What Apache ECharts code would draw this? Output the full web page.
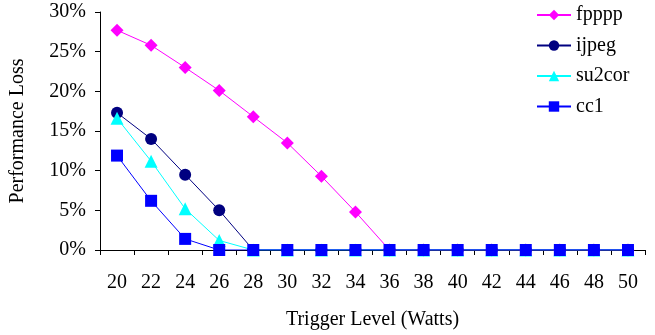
<!DOCTYPE html>
<html>
<head>
<meta charset="utf-8">
<script src="https://cdn.jsdelivr.net/npm/echarts@6/dist/echarts.min.js"></script>
<style>
  html, body { margin: 0; padding: 0; background: #fff; }
</style>
</head>
<body>
<div id="chart" style="width:655px;height:335px;"></div>
<script>
// trigger levels on the x axis
const levels = ['20', '22', '24', '26', '28', '30', '32', '34', '36', '38', '40', '42', '44', '46', '48', '50'];
// performance loss, percent
const fpppp  = [27.7, 25.8, 23.0, 20.1, 16.8, 13.5, 9.3, 4.8, 0, 0, 0, 0, 0, 0, 0, 0];
const ijpeg  = [17.3, 14.0, 9.5, 5.0, 0, 0, 0, 0, 0, 0, 0, 0, 0, 0, 0, 0];
const su2cor = [16.6, 11.2, 5.2, 1.2, 0, 0, 0, 0, 0, 0, 0, 0, 0, 0, 0, 0];
const cc1    = [11.9, 6.2, 1.4, 0, 0, 0, 0, 0, 0, 0, 0, 0, 0, 0, 0, 0];

const font = 'Liberation Serif';

let myChart = echarts.init(document.getElementById('chart'));

function line(name, data, color, symbol, size) {
    return {
        name: name,
        type: 'line',
        data: data,
        symbol: symbol,
        symbolSize: size,
        color: color,
        lineStyle: { color: color, width: 1 },
        itemStyle: { color: color },
        animation: false
    };
}

myChart.setOption({
    animation: false,
    textStyle: { fontFamily: font },
    grid: {
        left: 100,
        right: 10,
        top: 12,
        bottom: 85
    },
    legend: {
        orient: 'vertical',
        left: 531,
        top: 0,
        itemWidth: 34,
        itemHeight: 13,
        itemGap: 10.5,
        textStyle: { fontFamily: font, fontSize: 20, color: '#000' },
        data: ['fpppp', 'ijpeg', 'su2cor', 'cc1']
    },
    xAxis: {
        type: 'category',
        data: levels,
        boundaryGap: true,
        name: 'Trigger Level (Watts)',
        nameLocation: 'middle',
        nameGap: 60,
        nameTextStyle: { fontFamily: font, fontSize: 20, color: '#000' },
        axisLine: { lineStyle: { color: '#000', width: 1 } },
        axisTick: { show: true, length: 5, inside: false, alignWithLabel: false, lineStyle: { color: '#000' } },
        axisLabel: { fontFamily: font, fontSize: 20, color: '#000', margin: 23, interval: 0 },
        splitLine: { show: false }
    },
    yAxis: {
        type: 'value',
        min: 0,
        max: 30,
        interval: 5,
        name: 'Performance Loss',
        nameLocation: 'middle',
        nameGap: 72,
        nameTextStyle: { fontFamily: font, fontSize: 20, color: '#000' },
        axisLine: { show: true, lineStyle: { color: '#000', width: 1 } },
        axisTick: { show: true, length: 5, lineStyle: { color: '#000' } },
        axisLabel: { fontFamily: font, fontSize: 20, color: '#000', margin: 14, formatter: '{value}%' },
        splitLine: { show: false }
    },
    series: [
        line('fpppp', fpppp, '#ff00ff', 'diamond', 13),
        line('ijpeg', ijpeg, '#000080', 'circle', 12),
        line('su2cor', su2cor, '#00ffff', 'triangle', 13),
        line('cc1', cc1, '#0000ff', 'rect', 12)
    ]
});
</script>
</body>
</html>
